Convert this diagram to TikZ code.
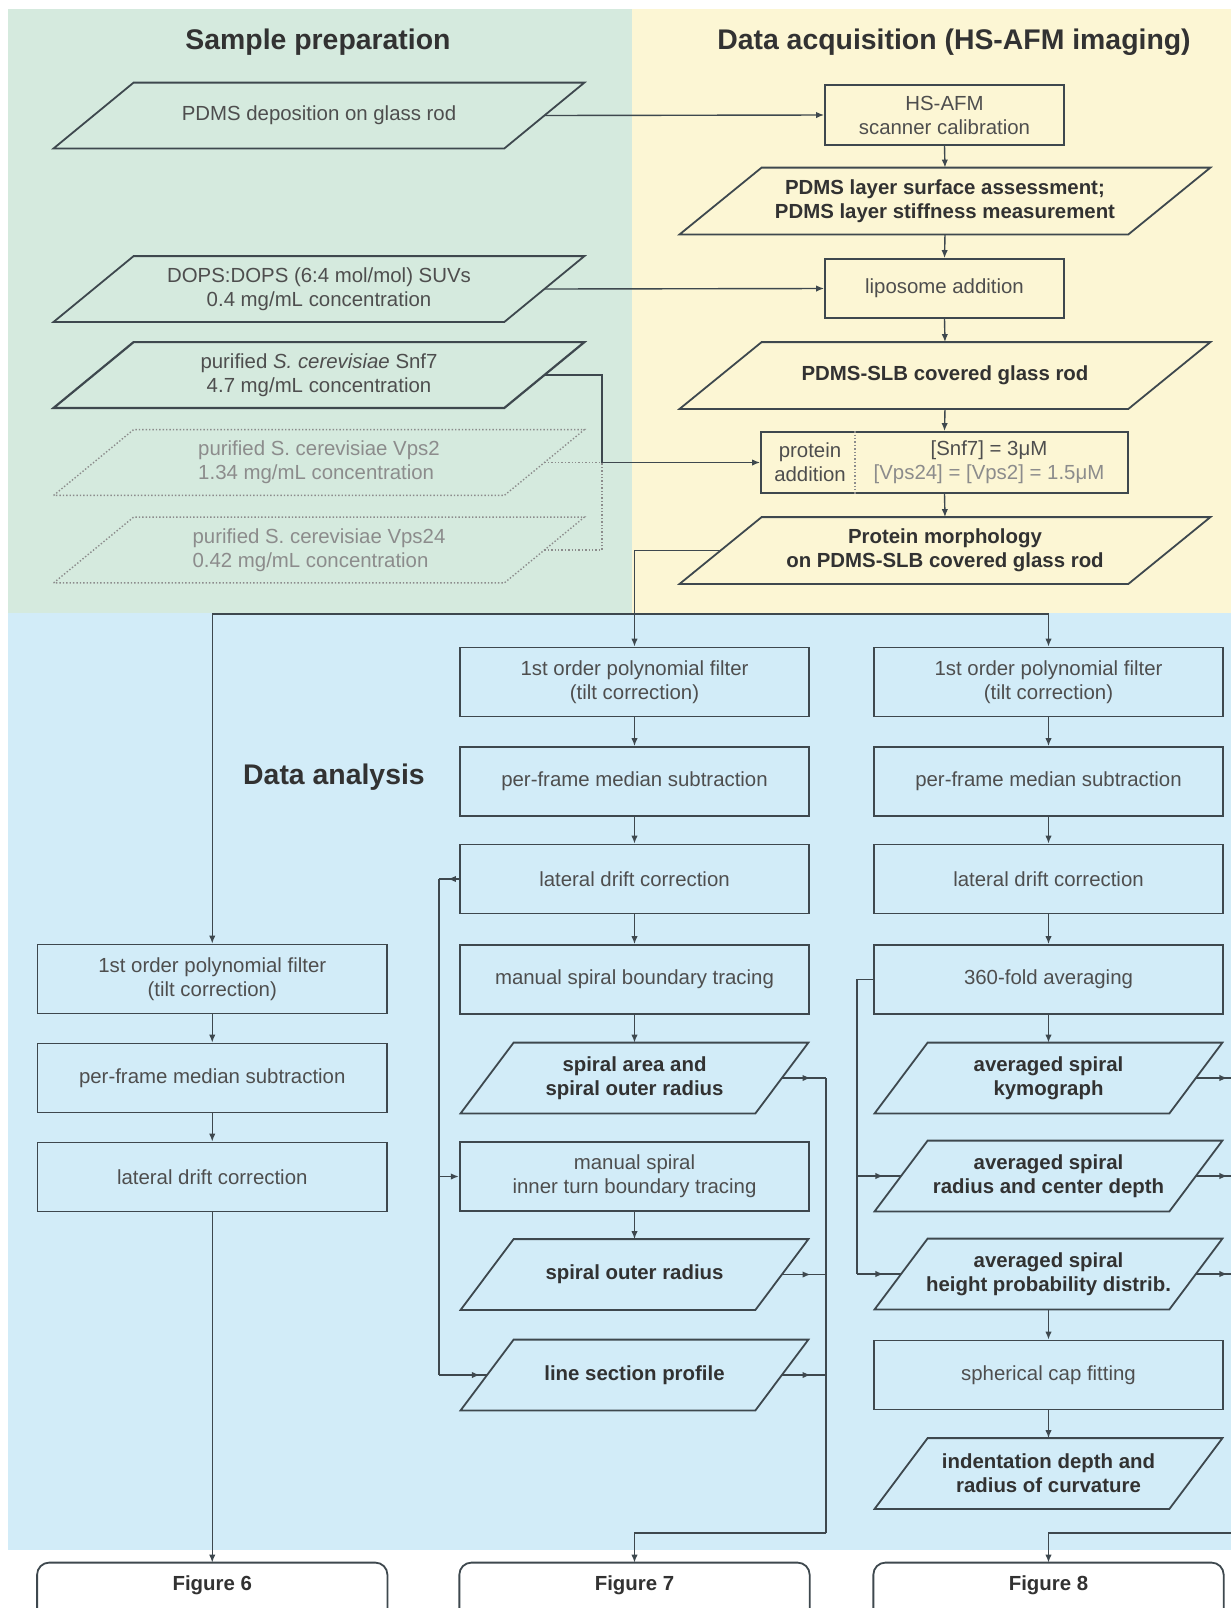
\documentclass[tikz,border=0pt]{standalone}
\usepackage{fontspec}
\setmainfont{Liberation Sans}
\usetikzlibrary{arrows.meta,decorations.markings}

\definecolor{prepbg}{RGB}{213,234,222}
\definecolor{acqbg}{RGB}{252,246,212}
\definecolor{anabg}{RGB}{210,236,248}
\definecolor{lineclr}{RGB}{62,72,78}
\definecolor{txtclr}{RGB}{78,78,78}
\definecolor{boldclr}{RGB}{50,50,50}
\definecolor{vpsgray}{RGB}{140,140,140}

\newcommand{\bodyfont}{\fontsize{10.2}{12}\selectfont}
% parallelogram round a (rectangle) node: #2 node, #3 half of the slant
\newcommand{\drawpgram}[3][]{\draw[draw=lineclr, line width=0.9pt, #1] ([xshift=-#3]#2.south west) -- ([xshift=#3]#2.north west) -- ([xshift=#3]#2.north east) -- ([xshift=-#3]#2.south east) -- cycle;}

\tikzset{
	title/.style={font=\fontsize{14.2}{17}\selectfont\bfseries, text=boldclr},
	stepbox/.style={rectangle, draw=lineclr, line width=0.9pt, minimum width=174.75pt, minimum height=34.5pt, inner sep=1pt, align=center, font=\bodyfont, text=txtclr},
	databox/.style={rectangle, minimum width=147pt, minimum height=35pt, inner sep=1pt, align=center, font=\bodyfont\bfseries, text=boldclr},
	prepbox/.style={rectangle, minimum width=225pt, minimum height=32.5pt, inner sep=1pt, align=center, font=\bodyfont, text=txtclr},
	acqbox/.style={prepbox, minimum width=224pt, minimum height=33pt, font=\bodyfont\bfseries, text=boldclr},
	figbox/.style={minimum width=174.75pt, minimum height=22.5pt, inner sep=0pt, font=\bodyfont\bfseries, text=boldclr},
	conn/.style={draw=lineclr, line width=0.7pt},
	arr/.style={conn, -{Latex[length=4pt,width=3.2pt]}},
	midarrow/.style={conn, postaction={decorate}, decoration={markings, mark=at position #1 with {\arrow{Latex[length=4pt,width=3.2pt]}}}}
}

\begin{document}
\begin{tikzpicture}[x=0.5pt, y=-0.5pt]
	\useasboundingbox (0,0) rectangle (1231,1608);
	\fill[white] (0,0) rectangle (1231,1608);

	% Panels
	\fill[prepbg] (8,9) rectangle (632,613);
	\fill[acqbg] (632,9) rectangle (1231,613);
	\fill[anabg] (8,613) rectangle (1231,1550);

	\node[title] (ttlPrep) at (318,42) {Sample preparation};
	\node[title] (ttlAcq) at (954,42) {Data acquisition (HS-AFM imaging)};
	\node[title] (ttlAna) at (334,777) {Data analysis};

	% Sample preparation
	\node[prepbox] (prepPdms) at (319,115.5) {PDMS deposition on glass rod};
	\node[prepbox] (prepDops) at (319,289) {DOPS:DOPS (6:4 mol/mol) SUVs\\0.4 mg/mL concentration};
	\node[prepbox] (prepSnf) at (319,375) {purified \textit{S. cerevisiae} Snf7\\4.7 mg/mL concentration};
	\node[prepbox, text=vpsgray, align=left] (prepVpsB) at (319,462.5) {purified S. cerevisiae Vps2\\1.34 mg/mL concentration};
	\node[prepbox, text=vpsgray, align=left] (prepVpsC) at (319,550) {purified S. cerevisiae Vps24\\0.42 mg/mL concentration};
	\drawpgram{prepPdms}{20pt}
	\drawpgram{prepDops}{20pt}
	\drawpgram[line width=1.1pt]{prepSnf}{20pt}
	\drawpgram[draw=vpsgray, line width=0.7pt, densely dotted]{prepVpsB}{20pt}
	\drawpgram[draw=vpsgray, line width=0.7pt, densely dotted]{prepVpsC}{20pt}

	% Data acquisition
	\node[stepbox, minimum width=119.5pt, minimum height=30pt] (acqCal) at (944.5,115) {HS-AFM\\scanner calibration};
	\node[acqbox] (acqSurf) at (945,201) {PDMS layer surface assessment;\\PDMS layer stiffness measurement};
	\node[stepbox, minimum width=119.5pt, minimum height=29.5pt] (acqLipo) at (944.5,288.5) {liposome addition};
	\node[acqbox] (acqSlb) at (945,375.5) {PDMS-SLB covered glass rod};
	\node[stepbox, minimum width=183.5pt, minimum height=30.5pt] (acqProt) at (944.5,462.5) {};
	\node[font=\bodyfont, text=txtclr, align=center] (protLbl) at (810,462.5) {protein\\addition};
	\node[font=\bodyfont, text=txtclr, align=center] (protConc) at (989,462.5) {[Snf7] = 3μM\\{\color{vpsgray}[Vps24] = [Vps2] = 1.5μM}};
	\draw[draw=vpsgray, line width=0.7pt, densely dotted] ([xshift=47.5pt]acqProt.north west) -- ([xshift=47.5pt]acqProt.south west);
	\node[acqbox] (acqMorph) at (945,550.5) {Protein morphology\\on PDMS-SLB covered glass rod};
	\foreach \n in {acqSurf, acqSlb, acqMorph}
		{\drawpgram{\n}{20.5pt}}

	% Data analysis, left column
	\node[stepbox] (anaA1) at (212.25,979) {1st order polynomial filter\\(tilt correction)};
	\node[stepbox] (anaA2) at (212.25,1078) {per-frame median subtraction};
	\node[stepbox] (anaA3) at (212.25,1177) {lateral drift correction};

	% Data analysis, spiral column
	\node[stepbox] (anaM1) at (634.5,682) {1st order polynomial filter\\(tilt correction)};
	\node[stepbox] (anaM2) at (634.5,781.5) {per-frame median subtraction};
	\node[stepbox] (anaM3) at (634.5,879) {lateral drift correction};
	\node[stepbox] (anaM4) at (634.5,979.5) {manual spiral boundary tracing};
	\node[databox] (anaM5) at (634.5,1078) {spiral area and\\spiral outer radius};
	\node[stepbox] (anaM6) at (634.5,1176.5) {manual spiral\\inner turn boundary tracing};
	\node[databox] (anaM7) at (634.5,1274.5) {spiral outer radius};
	\node[databox] (anaM8) at (634.5,1375) {line section profile};

	% Data analysis, averaging column
	\node[stepbox] (anaR1) at (1048.5,682) {1st order polynomial filter\\(tilt correction)};
	\node[stepbox] (anaR2) at (1048.5,781.5) {per-frame median subtraction};
	\node[stepbox] (anaR3) at (1048.5,879) {lateral drift correction};
	\node[stepbox] (anaR4) at (1048.5,979.5) {360-fold averaging};
	\node[databox] (anaR5) at (1048.5,1078) {averaged spiral\\kymograph};
	\node[databox] (anaR6) at (1048.5,1176) {averaged spiral\\radius and center depth};
	\node[databox] (anaR7) at (1048.5,1274) {averaged spiral\\height probability distrib.};
	\node[stepbox] (anaR8) at (1048.5,1375) {spherical cap fitting};
	\node[databox] (anaR9) at (1048.5,1473.5) {indentation depth and\\radius of curvature};
	\foreach \n in {anaM5, anaM7, anaM8, anaR5, anaR6, anaR7, anaR9}
		{\drawpgram{\n}{13.25pt}}

	% Figures
	\node[figbox] (fig6) at (212.25,1585.5) {Figure 6};
	\node[figbox] (fig7) at (634.5,1585.5) {Figure 7};
	\node[figbox] (fig8) at (1048.5,1585.5) {Figure 8};
	\foreach \f in {fig6,fig7,fig8}
		\draw[draw=lineclr, line width=0.9pt, rounded corners=6pt] (\f.south west) -- (\f.north west) -- (\f.north east) -- (\f.south east);

	% Preparation to acquisition
	\draw[arr] (prepPdms.east) -- (acqCal.west);
	\draw[arr] (prepDops.east) -- (acqLipo.west);
	\coordinate (protIn) at (602,462.5);
	\draw[arr] (prepSnf.east) -| (protIn) -- (acqProt.west);
	\draw[conn, draw=vpsgray, densely dotted] (prepVpsB.east) -- (protIn);
	\draw[conn, draw=vpsgray, densely dotted] (prepVpsC.east) -| (protIn);

	\foreach \a/\b in {acqCal/acqSurf, acqSurf/acqLipo, acqLipo/acqSlb, acqSlb/acqProt, acqProt/acqMorph}
		\draw[arr] (\a.south) -- (\b.north);

	% Split into the three analyses
	\coordinate (splitY) at (0,614);
	\draw[arr] (acqMorph.west) -| (anaM1.north);
	\draw[arr] (anaM1.north |- splitY) -| (anaA1.north);
	\draw[arr] (anaM1.north |- splitY) -| (anaR1.north);

	\foreach \a/\b in {anaA1/anaA2, anaA2/anaA3, anaA3/fig6, anaM1/anaM2, anaM2/anaM3, anaM3/anaM4, anaM4/anaM5, anaM6/anaM7, anaR1/anaR2, anaR2/anaR3, anaR3/anaR4, anaR4/anaR5, anaR7/anaR8, anaR8/anaR9}
		\draw[arr] (\a.south) -- (\b.north);

	% Loop from lateral drift correction
	\coordinate (loopX) at (439,0);
	\draw[midarrow=0.55] (anaM3.west) -- (anaM3.west -| loopX);
	\draw[conn] (anaM3.west -| loopX) -- (anaM8.west -| loopX);
	\draw[arr] (anaM6.west -| loopX) -- (anaM6.west);
	\draw[midarrow=0.85] (anaM8.west -| loopX) -- (anaM8.west);

	\coordinate (busM) at (826,1533);
	\foreach \n in {anaM5, anaM7, anaM8}
		\draw[midarrow=0.65] (\n.east) -- (\n.east -| busM);
	\draw[conn] (anaM5.east -| busM) -- (busM);
	\draw[arr] (busM) -| (fig7.north);

	% Branch from 360-fold averaging
	\coordinate (branchX) at (857,0);
	\draw[conn] (anaR4.west) -| (anaR7.west -| branchX);
	\draw[midarrow=0.6] (anaR6.west -| branchX) -- (anaR6.west);
	\draw[midarrow=0.6] (anaR7.west -| branchX) -- (anaR7.west);

	\coordinate (edgeR) at (1231,1533);
	\foreach \n in {anaR5, anaR6, anaR7}
		\draw[midarrow=0.9] (\n.east) -- (\n.east -| edgeR);
	\draw[arr] (edgeR) -| (fig8.north);
\end{tikzpicture}
\end{document}
